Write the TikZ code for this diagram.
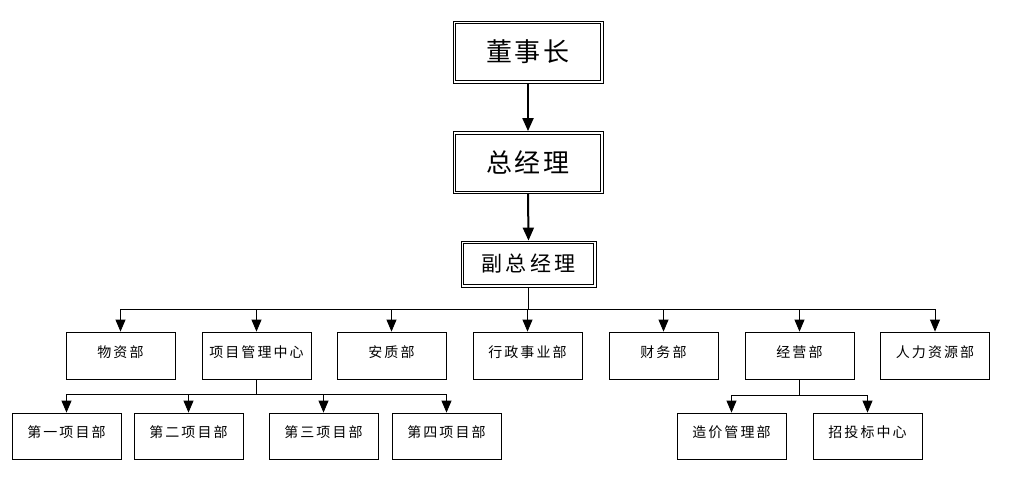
\documentclass[tikz,border=0pt]{standalone}
\usepackage{fontspec}
\newfontfamily\cjktop[LetterSpace=8]{Noto Sans CJK SC}
\newfontfamily\cjkmid[LetterSpace=17]{Noto Sans CJK SC}
\newfontfamily\cjksp[LetterSpace=15]{Noto Sans CJK SC}
\usetikzlibrary{arrows.meta}
\tikzset{
  topbox/.style={draw, line width=0.8pt, minimum width=150pt, minimum height=62pt, inner sep=0pt, font=\cjktop\fontsize{26}{30}\selectfont},
  midbox/.style={draw, line width=0.8pt, minimum width=135pt, minimum height=46pt, inner sep=0pt, font=\cjkmid\fontsize{21}{25}\selectfont},
  inner/.style={line width=0.8pt},
  deptbox/.style={draw, line width=0.8pt, minimum width=109pt, minimum height=47pt, inner sep=0pt, text height=12pt, text depth=9pt, font=\cjksp\fontsize{14}{16}\selectfont},
  subbox/.style={deptbox, minimum height=46pt},
  bigarr/.style={line width=2pt, -{Triangle[length=13pt,width=11pt]}},
  arr/.style={line width=0.8pt, -{Triangle[length=12pt,width=10pt]}},
  bus/.style={line width=0.8pt}
}
\begin{document}
\begin{tikzpicture}[x=1pt,y=-1pt]
\useasboundingbox (0,0) rectangle (1016,481);
% top
\node[topbox] (dsz) at (528,52) {董事长};
\node[topbox] (zjl) at (528,162.5) {总经理};
\node[midbox] (fzjl) at (528.5,264) {副总经理};
\foreach \n in {dsz,zjl,fzjl}{
  \draw[inner] ([shift={(3,3)}]\n.north west) rectangle ([shift={(-3,-3)}]\n.south east);
}
\draw[bigarr] (dsz.south) -- (zjl.north);
\draw[bigarr] (zjl.south) -- (fzjl.north);
% level 2
\node[deptbox] (wz) at (120.5,355.5) {物资部};
\node[deptbox] (xm) at (256.5,355.5) {项目管理中心};
\node[deptbox] (az) at (391.5,355.5) {安质部};
\node[deptbox] (xz) at (527.5,355.5) {行政事业部};
\node[deptbox] (cw) at (663.5,355.5) {财务部};
\node[deptbox] (jy) at (799.5,355.5) {经营部};
\node[deptbox] (rl) at (935,355.5) {人力资源部};
\coordinate (b2) at (528.5,309);
\draw[bus] (fzjl.south) -- (b2);
\draw[bus] (b2 -| wz.north) -- (b2 -| rl.north);
\foreach \n in {wz,xm,az,xz,cw,jy,rl}{
  \draw[arr] (b2 -| \n.north) -- (\n.north);
}
% level 3 under project center
\node[subbox] (p1) at (66.5,436) {第一项目部};
\node[subbox] (p2) at (188.5,436) {第二项目部};
\node[subbox] (p3) at (323.5,436) {第三项目部};
\node[subbox] (p4) at (446.5,436) {第四项目部};
\coordinate (b3) at (256.5,394);
\draw[bus] (xm.south) -- (b3);
\draw[bus] (b3 -| p1.north) -- (b3 -| p4.north);
\foreach \n in {p1,p2,p3,p4}{
  \draw[arr] (b3 -| \n.north) -- (\n.north);
}
% level 3 under jy
\node[subbox] (zj) at (731.5,436) {造价管理部};
\node[subbox] (zt) at (867.5,436) {招投标中心};
\coordinate (b4) at (799.5,395);
\draw[bus] (jy.south) -- (b4);
\draw[bus] (b4 -| zj.north) -- (b4 -| zt.north);
\foreach \n in {zj,zt}{
  \draw[arr] (b4 -| \n.north) -- (\n.north);
}
\end{tikzpicture}
\end{document}
